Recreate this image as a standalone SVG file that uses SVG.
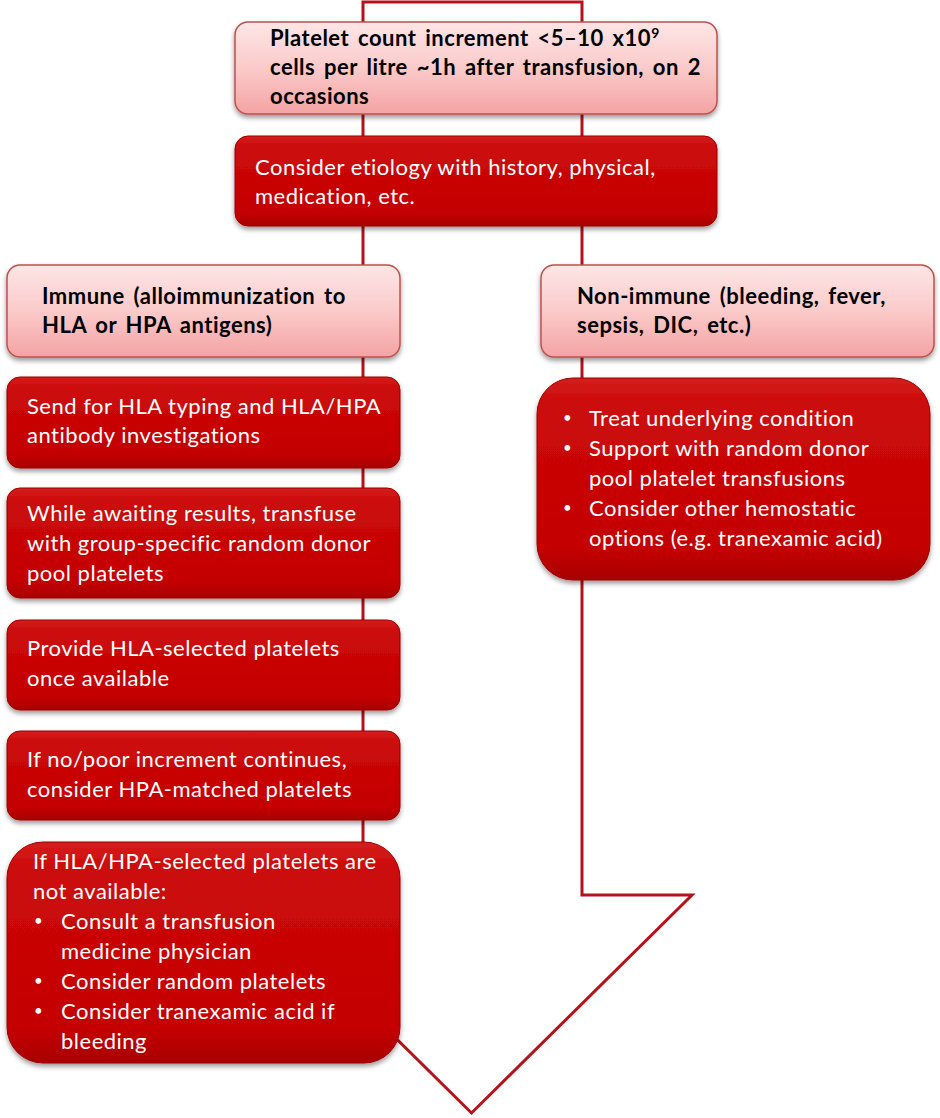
<svg xmlns="http://www.w3.org/2000/svg" width="940" height="1118" viewBox="0 0 940 1118">
<defs>
<linearGradient id="pink" x1="0" y1="0" x2="0" y2="1">
<stop offset="0" stop-color="#fde6e6"/><stop offset="0.5" stop-color="#fbcaca"/><stop offset="1" stop-color="#f4a3a3"/>
</linearGradient>
<linearGradient id="red" x1="0" y1="0" x2="0" y2="1">
<stop offset="0" stop-color="#d41e1e"/><stop offset="0.12" stop-color="#cc0a0a"/><stop offset="0.85" stop-color="#c40000"/><stop offset="1" stop-color="#a80000"/>
</linearGradient>
<filter id="sh" x="-10%" y="-10%" width="120%" height="130%">
<feDropShadow dx="0" dy="3" stdDeviation="2.5" flood-color="#000" flood-opacity="0.4"/>
</filter>
</defs>
<style>
.pk{fill:url(#pink);stroke:#c0504d;stroke-width:1.5;filter:url(#sh)}
.rd{fill:url(#red);stroke:#a00000;stroke-width:1;filter:url(#sh)}
.bt{font-family:Lato,"Liberation Sans",sans-serif;font-size:22px;font-weight:bold;fill:#000;letter-spacing:0.5px;word-spacing:3px}
.wt{font-family:Lato,"Liberation Sans",sans-serif;font-size:22px;fill:#fff;letter-spacing:0.5px}
.bu{font-size:15px}
</style>
<g id="connectors">
<path d="M363,2 L582,2 L582,895 L692,895 L471.5,1113 L251,895 L363,895 Z" fill="#fff" stroke="#b5121b" stroke-width="3" stroke-linejoin="miter"/>
</g>
<g id="n1">
<rect class="pk" x="235" y="22" width="482" height="92" rx="13"/>
<text class="bt"><tspan x="270" y="46">Platelet count increment &lt;5–10 x10<tspan dy="-8" font-size="14">9</tspan></tspan><tspan x="270" y="75">cells per litre ~1h after transfusion, on 2</tspan><tspan x="270" y="104">occasions</tspan></text>
</g>
<g id="n2">
<rect class="rd" x="235" y="136" width="482" height="90" rx="13"/>
<text class="wt"><tspan x="255" y="175">Consider etiology with history, physical,</tspan><tspan x="255" y="204">medication, etc.</tspan></text>
</g>
<g id="n3">
<rect class="pk" x="7" y="265" width="393" height="92" rx="13"/>
<text class="bt"><tspan x="42" y="304">Immune (alloimmunization to</tspan><tspan x="42" y="333">HLA or HPA antigens)</tspan></text>
</g>
<g id="n4">
<rect class="pk" x="541" y="265" width="393" height="92" rx="13"/>
<text class="bt"><tspan x="577" y="304">Non-immune (bleeding, fever,</tspan><tspan x="577" y="333">sepsis, DIC, etc.)</tspan></text>
</g>
<g id="n5">
<rect class="rd" x="7" y="377" width="393" height="91" rx="13"/>
<text class="wt"><tspan x="27" y="414">Send for HLA typing and HLA/HPA</tspan><tspan x="27" y="443">antibody investigations</tspan></text>
</g>
<g id="n6">
<rect class="rd" x="7" y="488" width="393" height="110" rx="13"/>
<text class="wt"><tspan x="27" y="521">While awaiting results, transfuse</tspan><tspan x="27" y="551">with group-specific random donor</tspan><tspan x="27" y="581">pool platelets</tspan></text>
</g>
<g id="n7">
<rect class="rd" x="7" y="620" width="393" height="90" rx="13"/>
<text class="wt"><tspan x="27" y="656">Provide HLA-selected platelets</tspan><tspan x="27" y="686">once available</tspan></text>
</g>
<g id="n8">
<rect class="rd" x="7" y="731" width="393" height="89" rx="13"/>
<text class="wt"><tspan x="27" y="767">If no/poor increment continues,</tspan><tspan x="27" y="797">consider HPA-matched platelets</tspan></text>
</g>
<g id="n9">
<rect class="rd" x="7" y="842" width="393" height="221" rx="36"/>
<text class="wt"><tspan x="33" y="869">If HLA/HPA-selected platelets are</tspan><tspan x="33" y="899">not available:</tspan><tspan class="bu" x="34" y="926">•</tspan><tspan x="61" y="929">Consult a transfusion</tspan><tspan x="61" y="959">medicine physician</tspan><tspan class="bu" x="34" y="986">•</tspan><tspan x="61" y="989">Consider random platelets</tspan><tspan class="bu" x="34" y="1016">•</tspan><tspan x="61" y="1019">Consider tranexamic acid if</tspan><tspan x="61" y="1049">bleeding</tspan></text>
</g>
<g id="n10">
<rect class="rd" x="537" y="378" width="393" height="202" rx="36"/>
<text class="wt"><tspan class="bu" x="563" y="423">•</tspan><tspan x="589" y="426">Treat underlying condition</tspan><tspan class="bu" x="563" y="453">•</tspan><tspan x="589" y="456">Support with random donor</tspan><tspan x="589" y="486">pool platelet transfusions</tspan><tspan class="bu" x="563" y="513">•</tspan><tspan x="589" y="516">Consider other hemostatic</tspan><tspan x="589" y="546">options (e.g. tranexamic acid)</tspan></text>
</g>
</svg>
